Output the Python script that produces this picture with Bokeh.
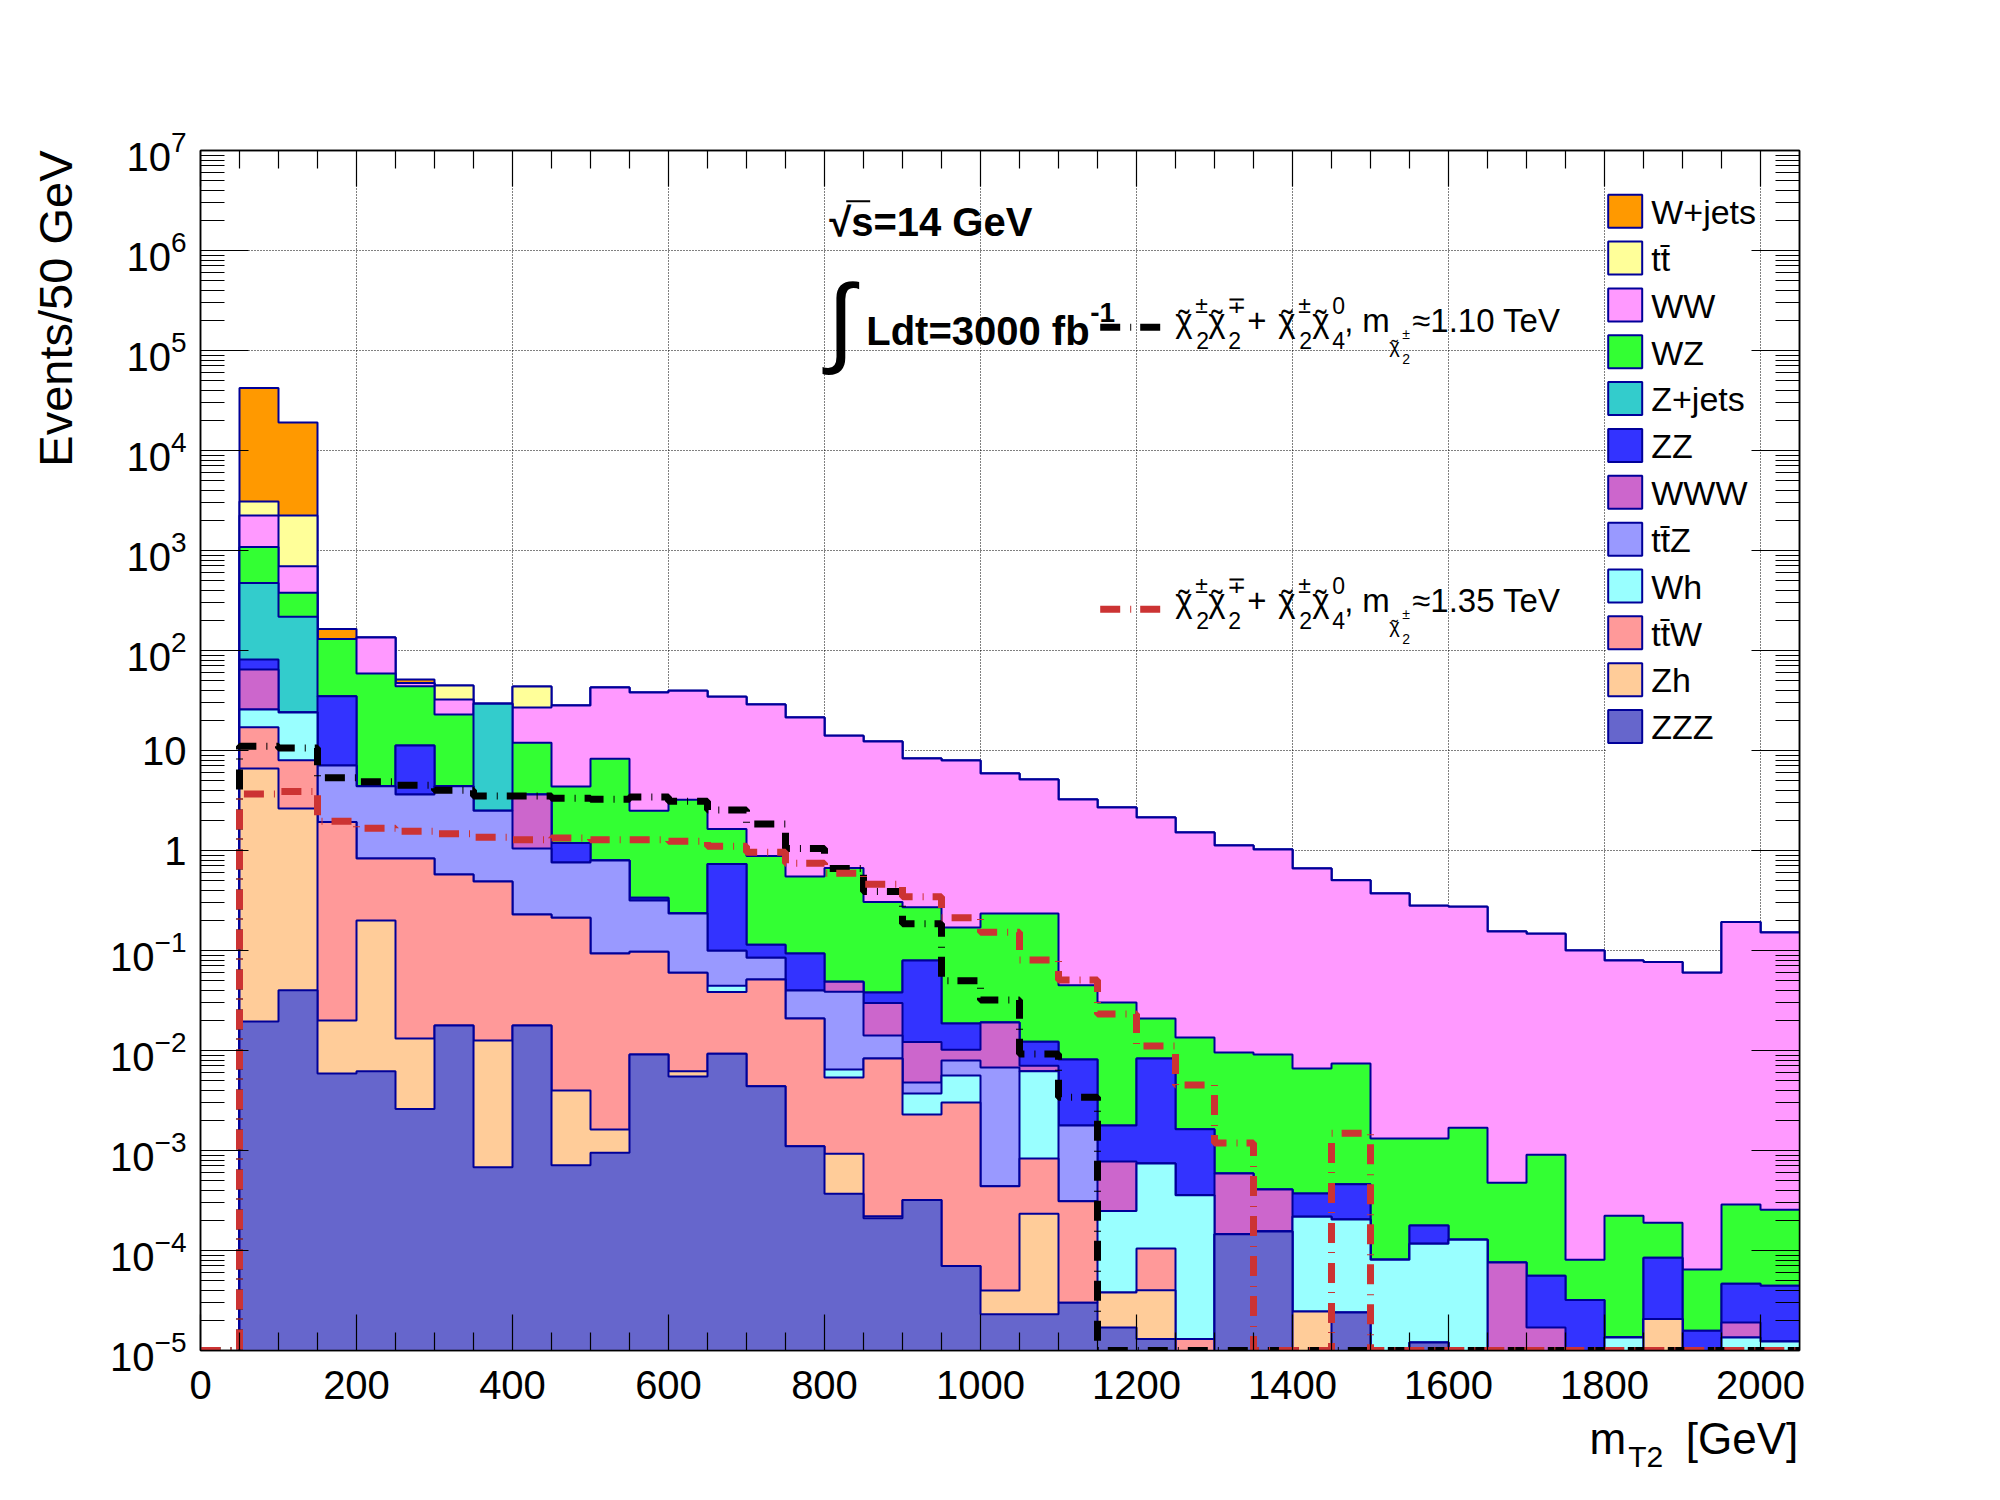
import math
import numpy as np
from bokeh.plotting import figure
from bokeh.layouts import column
from bokeh.models import (Range1d, LinearAxis, LogAxis, FixedTicker, Label, Title,
                          CustomJSTickFormatter, LogTickFormatter)
from bokeh.embed import file_html
from bokeh.resources import INLINE
from bokeh.core.properties import value

# ---------------- data (events / 50 GeV), bins 0-50, 50-100, ..., 2000-2050 ----------------
bin_edges = list(range(0, 2100, 50))  # 42 edges, 41 bins

ZZZ = [0, 0.0195, 0.040, 0.0059, 0.0062, 0.0026, 0.0178, 0.00068, 0.0178, 0.00071, 0.00095,
       0.0091, 0.0055, 0.0093, 0.0044, 0.0011, 0.00037, 0.00021, 0.00032, 0.00007, 0.000023,
       0.000023, 0.00003, 0.000017, 0.000013, 0, 0.000145, 0.000155, 0, 0.000024, 0,
       0.000012, 0, 0, 0, 0, 0, 0, 0, 0, 0]
Zh = [0, 6.59, 2.59, 0.014, 0.193, 0.0106, 0, 0.0119, 0, 0.00327, 0.00067,
      0, 0.0007, 0, 0, 0, 0.00056, 0.00001, 0, 0, 0.0000167,
      0.00021, 0, 0.000021, 0.000027, 0, 0, 0, 0.0000245, 0, 0,
      0, 0, 0, 0, 0, 0, 0.0000206, 0, 0, 0]
ttW = [0, 10.5, 5.37, 1.91, 0.632, 0.819, 0.557, 0.476, 0.211, 0.209, 0.0917,
       0.0879, 0.0536, 0.0291, 0.047, 0.0198, 0.00444, 0.0081, 0.00197, 0.00295, 0.0004,
       0.0006, 0.00028, 0, 0.000065, 0.000013, 0, 0, 0, 0, 0,
       0, 0, 0, 0, 0, 0, 0, 0, 0, 0]
Wh = [0, 8.6, 16.0, 0, 0, 0, 0, 0, 0, 0, 0,
      0, 0, 0.006, 0, 0, 0.00109, 0, 0.00143, 0.0026, 0,
      0.00538, 0, 0.000211, 0.000636, 0.000344, 0, 0, 0.000193, 0.00018, 0.000081,
      0.000105, 0.000128, 0, 0, 0, 0.0000135, 0, 0, 0.0000135, 0.0000123]
ttZ = [0, 0, 0, 5.15, 3.57, 2.8, 3.82, 2.01, 0.816, 0.544, 0.699,
       0.2185, 0.175, 0.0551, 0.0334, 0.0189, 0.0322, 0.0058, 0.00107, 0.00232, 0.00632,
       0, 0.00147, 0, 0, 0, 0, 0, 0, 0, 0,
       0, 0, 0, 0, 0, 0, 0, 0, 0, 0]
WWW = [0, 38.9, 0, 0, 0, 0, 0, 0, 2.58, 0, 0,
       0, 0, 0, 0, 0, 0.01, 0.0158, 0.0074, 0.00226, 0.0123,
       0.00082, 0, 0.000527, 0, 0, 0.000444, 0.000252, 0, 0, 0,
       0, 0, 0.000076, 0.000017, 0, 0, 0, 0, 0.0000055, 0]
ZZ = [0, 16.7, 0, 27.8, 0, 7.57, 0, 0, 0, 0.432, 0,
      0.022, 0, 0.632, 0.0293, 0.0535, 0, 0.0081, 0.0672, 0.0084, 0,
      0.00517, 0.00635, 0.001, 0.00758, 0.00127, 0, 0, 0.000155, 0.000256, 0,
      0.000061, 0, 0, 0.000039, 0.000032, 0, 0.000064, 0.0000158, 0.0000275, 0.000032]
Zjets = [0, 393, 193, 0, 0, 0, 0, 26.9, 0, 0, 0,
         0, 0, 0, 0, 0, 0, 0, 0, 0, 0,
         0, 0, 0, 0, 0, 0, 0, 0, 0, 0,
         0, 0, 0, 0, 0, 0, 0, 0, 0, 0]
WZ = [0, 612, 160, 95.7, 54.5, 32.8, 18.5, 0, 8.35, 3.18, 7.47,
      2.16, 2.98, 0.909, 0.767, 0.457, 0.621, 0.268, 0.192, 0.151, 0.215,
      0.222, 0.0369, 0.0284, 0.0126, 0.0119, 0.00896, 0.0087, 0.00623, 0.00695, 0.00124,
      0.00114, 0.00156, 0.0004, 0.00085, 0.000049, 0.000209, 0.000105, 0.0000486, 0.000242, 0.000211]
WW = [0, 1153, 320, 0, 76, 3.4, 9.5, 0, 14.9, 23.8, 34.3,
      35.5, 36.4, 32.9, 28.0, 20.8, 13.4, 12.0, 8.05, 7.77, 5.66,
      4.9, 3.19, 2.66, 2.12, 1.5, 1.112, 1.014, 0.654, 0.498, 0.37,
      0.279, 0.272, 0.1545, 0.146, 0.1, 0.0792, 0.0765, 0.06, 0.1925, 0.151]
ttbar = [0, 851, 1542, 0, 0, 0, 12.3, 0, 16.8, 0, 0,
         0, 0, 0, 0, 0, 0, 0, 0, 0, 0,
         0, 0, 0, 0, 0, 0, 0, 0, 0, 0,
         0, 0, 0, 0, 0, 0, 0, 0, 0, 0]
Wjets = [0, 39180, 16816, 33.8, 0, 3.9, 0, 0, 0, 0, 0,
         0, 0, 0, 0, 0, 0, 0, 0, 0, 0,
         0, 0, 0, 0, 0, 0, 0, 0, 0, 0,
         0, 0, 0, 0, 0, 0, 0, 0, 0, 0]

sig_110 = [0, 11.0, 10.6, 5.33, 4.86, 4.5, 4.0, 3.51, 3.5, 3.34, 3.26,
           3.43, 3.11, 2.54, 1.84, 1.05, 0.66, 0.39, 0.185, 0.0497, 0.032,
           0.00925, 0.00341, 0, 0, 0, 0, 0, 0, 0, 0,
           0, 0, 0, 0, 0, 0, 0, 0, 0, 0]
sig_135 = [0, 3.68, 3.9, 1.96, 1.67, 1.56, 1.47, 1.36, 1.28, 1.33, 1.28,
           1.28, 1.24, 1.10, 0.96, 0.746, 0.593, 0.46, 0.344, 0.212, 0.152,
           0.0805, 0.0508, 0.0232, 0.0111, 0.00453, 0.00119, 0, 0, 0.00149, 0,
           0, 0, 0, 0, 0, 0, 0, 0, 0, 0]

# stack order bottom -> top
stack_names = ["ZZZ", "Zh", "tt\u0304W", "Wh", "tt\u0304Z", "WWW", "ZZ", "Z+jets", "WZ", "WW", "tt\u0304", "W+jets"]
stack_values = [ZZZ, Zh, ttW, Wh, ttZ, WWW, ZZ, Zjets, WZ, WW, ttbar, Wjets]
stack_colors = ["#6666cc", "#ffcc99", "#ff9999", "#99ffff", "#9999ff", "#cc66cc",
                "#3333ff", "#33cccc", "#33ff33", "#ff99ff", "#ffff99", "#ff9900"]

x_ticks = list(range(0, 2001, 200))
x_minor = [v for v in range(50, 2050, 50) if v % 200]
y_exps = list(range(-5, 8))

# ---------------- geometry (page pixels) ----------------
FONT = "Liberation Sans"
X_LEFT, PX_PER_GEV = 200.3, 0.78
Y_TOP, PX_PER_DEC = 150.3, 100.0
FIG_W, MAIN_H, PAGE_H = 1984, 1408, 1484
B_LEFT, B_RIGHT = 200, 185
BASE_FIX = 0.33   # alphabetic-baseline correction (fraction of font size)


def px_x(X):
    return (X - X_LEFT) / PX_PER_GEV


def px_y(Y):
    return 10 ** (7 - (Y - Y_TOP) / PX_PER_DEC)


YMIN, YMAX = 1e-5, 1e7
FLOOR = 1e-6

p = figure(width=FIG_W, height=MAIN_H, x_range=Range1d(0, 2050), y_range=Range1d(YMIN, YMAX),
           y_axis_type="log", output_backend="svg", toolbar_location=None,
           min_border_left=B_LEFT, min_border_right=B_RIGHT, min_border_top=150, min_border_bottom=58)
p.background_fill_color = "white"
p.border_fill_color = "white"
p.outline_line_color = "black"
p.outline_line_width = 1.5

xt = FixedTicker(ticks=x_ticks, minor_ticks=x_minor)
yt = FixedTicker(ticks=[10.0 ** n for n in y_exps],
                 minor_ticks=[m * 10.0 ** n for n in y_exps[:-1] for m in range(2, 10)])


def empty():
    return CustomJSTickFormatter(code="return ''")


def style_axis(ax, tin, tmin):
    ax.major_tick_in = tin
    ax.major_tick_out = 0
    ax.minor_tick_in = tmin
    ax.minor_tick_out = 0
    ax.axis_line_color = "black"
    ax.axis_line_width = 1.5
    ax.major_tick_line_color = "black"
    ax.major_tick_line_width = 1.2
    ax.minor_tick_line_color = "black"
    ax.minor_tick_line_width = 1.2


bx = p.xaxis[0]
bx.ticker = xt
style_axis(bx, 36, 18)
bx.major_label_text_font = FONT
bx.major_label_text_font_size = "40px"
bx.major_label_text_color = "black"
bx.major_label_standoff = 20

ly = p.yaxis[0]
ly.ticker = yt
ly.formatter = LogTickFormatter()
ly.major_label_overrides = {1: "1", 10: "10"}
ly.major_label_text_font = FONT
ly.major_label_text_font_size = "40px"
ly.major_label_text_color = "black"
ly.major_label_standoff = 14
style_axis(ly, 48, 24)

top_ax = LinearAxis(ticker=xt, formatter=empty())
style_axis(top_ax, 36, 18)
p.add_layout(top_ax, "above")
right_ax = LogAxis(ticker=yt, formatter=empty())
style_axis(right_ax, 48, 24)
p.add_layout(right_ax, "right")

# y-axis title (right aligned at the top end, as ROOT does)
p.add_layout(Title(text="Events/50 GeV", align="right", standoff=52, text_font=FONT,
                   text_font_size="47px", text_font_style="normal", text_color="black"), "left")

for g, tk in ((p.xgrid[0], xt), (p.ygrid[0], yt)):
    g.ticker = tk
    g.grid_line_color = "black"
    g.grid_line_dash = "1 2"
    g.grid_line_width = 1
    g.grid_line_alpha = 1.0

edges = np.array(bin_edges, dtype=float)


def step_y(vals, floor):
    v = np.maximum(np.asarray(vals, dtype=float), floor)
    return np.append(v, v[-1])


# ---------------- stacked histograms (drawn top-down as ROOT does) ----------------
cum = np.cumsum(np.array(stack_values, dtype=float), axis=0)
for k in reversed(range(len(stack_values))):
    top = step_y(cum[k], FLOOR)
    p.varea_step(x=edges, y1=np.full(len(edges), FLOOR), y2=top, step_mode="after",
                 fill_color=stack_colors[k])
    p.step(x=edges, y=top, mode="after", line_color="#000099", line_width=2)

# ---------------- signal curves ----------------
DASH = "20 10 1 9"
p.step(x=edges, y=step_y(sig_110, YMIN), mode="after", line_color="black", line_width=7, line_dash=DASH)
p.step(x=edges, y=step_y(sig_135, YMIN), mode="after", line_color="#cc3333", line_width=7, line_dash=DASH)


# ---------------- texts inside the frame ----------------
def lab(X, Y, text, size, align="left", bold=False, fix=True):
    Yb = Y - BASE_FIX * size if fix else Y
    p.add_layout(Label(x=px_x(X), y=px_y(Yb), text=text, text_font=FONT,
                       text_font_size=f"{size}px", text_font_style="bold" if bold else "normal",
                       text_align=align, text_baseline="alphabetic", text_color="black"))


# energy / luminosity
lab(829, 235, "\u221as=14 GeV", 40, bold=True)
p.segment(x0=[px_x(846)], y0=[px_y(201)], x1=[px_x(870)], y1=[px_y(201)], line_color="black", line_width=2)
lab(827, 319, "\u222b", 99, fix=False)
lab(866, 344, "Ldt=3000 fb", 40, bold=True)
lab(1090, 322, "-1", 28, bold=True)


def chi(X, Yb, size):
    lab(X, Yb, "\u03c7", size)
    lab(X + 0.27 * size, Yb + 0.06 * size, "\u02dc", size, align="center")


def sig_entry(Yb, Yline, color, mass):
    p.line(x=[px_x(1100), px_x(1164)], y=[px_y(Yline), px_y(Yline)], line_color=color,
           line_width=7, line_dash=DASH)
    for Xc in (1175, 1208, 1278, 1312):
        chi(Xc, Yb, 33)
    pieces = [
        ("\u00b1", 1195, -19, 23), ("2", 1196, 17, 23),
        ("\u2213", 1227, -19, 23), ("2", 1228, 17, 23),
        ("+", 1247, 0, 33),
        ("\u00b1", 1298, -19, 23), ("2", 1299, 17, 23),
        ("0", 1332, -18, 23), ("4", 1332, 17, 23),
        (",", 1344, 0, 33), ("m", 1362, 0, 33),
        ("\u00b1", 1402, 7, 14), ("2", 1402, 32, 14),
        ("\u2248" + mass + " TeV", 1412, 0, 33),
    ]
    chi(1389, Yb + 21, 20)
    for txt, X, dY, size in pieces:
        lab(X, Yb + dY, txt, size)


sig_entry(331, 327, "black", "1.10")
sig_entry(611, 609, "#cc3333", "1.35")

# background legend
p.quad(left=[px_x(1606)], right=[px_x(1752)], top=[px_y(182)], bottom=[px_y(760)],
       fill_color="white", line_alpha=0)
for i, k in enumerate(reversed(range(len(stack_names)))):
    Yc = 211 + 46.85 * i
    p.quad(left=[px_x(1608)], right=[px_x(1642)], top=[px_y(Yc - 16.5)], bottom=[px_y(Yc + 16.5)],
           fill_color=stack_colors[k], line_color="#000099", line_width=2)
    lab(1651, Yc + 12, stack_names[k], 34)

# ---------------- x-axis title (strip below, page-pixel coordinates) ----------------
bottom_fig = figure(width=FIG_W, height=PAGE_H - MAIN_H, x_range=Range1d(X_LEFT, X_LEFT + 1599),
                    y_range=Range1d(PAGE_H, MAIN_H), output_backend="svg", toolbar_location=None,
                    min_border_left=B_LEFT, min_border_right=B_RIGHT, min_border_top=0, min_border_bottom=0,
                    x_axis_location=None, y_axis_location=None)
bottom_fig.grid.visible = False
bottom_fig.outline_line_color = None
bottom_fig.background_fill_color = "white"
bottom_fig.border_fill_color = "white"
bottom_fig.text(x=[1626, 1798], y=[1453 - BASE_FIX * 44] * 2, text=["m", "[GeV]"], text_align="right",
                text_baseline="alphabetic", text_font=value(FONT), text_font_size="44px", text_color="black")
bottom_fig.text(x=[1628], y=[1466 - BASE_FIX * 30], text=["T2"], text_align="left",
                text_baseline="alphabetic", text_font=value(FONT), text_font_size="30px", text_color="black")

layout = column(p, bottom_fig)
open("out.html", "w").write(file_html(layout, INLINE))
